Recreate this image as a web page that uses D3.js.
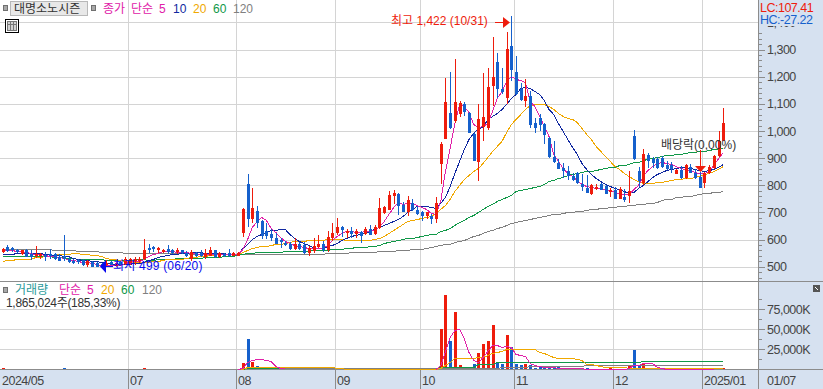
<!DOCTYPE html>
<html>
<head>
<meta charset="utf-8" />
<title>대명소노시즌</title>
<style>
html, body {
    padding: 0px;
    margin: 0px;
    background: #fff;
    overflow: hidden;
}
text {
    font-family: "Liberation Sans", "Noto Sans CJK KR", sans-serif;
    font-size: 12px;
}
.grid line {
    stroke: #d4d4d4;
    shape-rendering: crispEdges;
}
.axis path {
    display: none;
}
.axis line {
    stroke: #8c8c8c;
    shape-rendering: crispEdges;
}
.axis text, .narrow {
    fill: #444;
    font-size: 12.5px;
    letter-spacing: -0.5px;
}
.ma {
    fill: none;
    stroke-width: 1;
    shape-rendering: crispEdges;
}
</style>
</head>
<body>
<div id="chart"></div>
<script src="https://d3js.org/d3.v7.min.js"></script>
<script>
// candles, left to right, one per trading day
var opens = [556,574,570,560,546,562,546,538,540,544,548,548,535,540,528,522,526,525,505,518,512,510,505,518,503,518,510,510,522,522,530,568,572,560,558,564,560,553,560,552,530,550,552,536,541,560,535,548,552,540,
    540,625,806,677,707,670,633,622,607,600,589,585,567,582,581,552,558,574,585,562,604,625,648,627,633,620,628,622,640,622,644,698,710,762,769,729,703,736,710,703,688,688,677,880,972,1068,1038,1064,1101,1068,
    990,887,1016,1012,1167,1256,1156,1123,1315,1219,1153,1112,1130,1031,1049,1027,976,906,883,865,854,836,847,806,791,769,785,806,799,775,784,751,756,762,980,854,810,910,898,898,902,876,876,843,858,828,869,847,832,810,847,865,909,965];
var highs = [570,580,574,566,562,564,560,575,552,556,565,552,545,615,534,528,530,530,525,520,518,512,525,520,518,520,535,532,535,534,603,582,578,574,566,580,564,570,562,558,560,556,560,565,572,562,555,552,565,553,
    556,716,843,791,725,672,662,640,625,607,596,592,605,590,590,575,607,615,595,632,660,681,650,638,648,640,630,645,652,652,754,722,780,784,772,740,762,751,725,707,703,695,755,958,1197,1219,1267,1110,1108,1071,
    992,1101,1212,1234,1348,1289,1234,1366,1422,1278,1178,1190,1149,1049,1064,1030,978,965,898,883,872,845,850,843,839,805,806,810,802,790,792,795,788,854,1002,868,932,920,905,905,907,888,886,861,870,880,880,860,850,850,875,912,1000,1086];
var lows = [550,556,556,552,542,536,524,531,528,520,530,526,522,522,515,510,510,503,500,499,499,499,500,505,500,505,505,505,505,515,525,552,553,552,552,548,548,546,548,535,522,535,535,530,538,532,532,535,535,538,
    538,610,648,662,644,603,603,596,583,570,578,562,560,562,548,540,552,570,556,555,595,615,610,604,604,606,586,615,615,615,640,695,708,730,692,700,688,705,692,670,677,658,662,806,972,1008,1031,1050,1057,994,
    888,817,965,1005,1094,1123,1138,1101,1186,1134,1112,1090,1012,994,1001,953,902,883,859,828,821,815,805,780,773,765,782,782,767,755,749,748,738,735,895,795,800,865,865,860,865,858,847,840,825,825,845,822,791,791,840,860,905,962];
var closes = [564,558,560,556,560,536,536,546,548,536,538,530,522,530,518,516,518,505,522,500,500,500,515,508,512,505,530,528,530,530,560,560,565,568,562,556,552,562,552,540,555,540,540,552,560,534,552,540,540,550,
    552,714,677,718,662,614,614,607,585,590,582,567,582,567,552,570,575,585,562,610,626,648,636,632,622,632,614,640,618,648,717,720,766,772,725,703,747,710,696,685,700,677,733,953,1108,1012,1108,1105,1071,994,
    891,1046,1053,1164,1200,1153,1142,1304,1223,1138,1116,1130,1023,1012,1023,987,906,887,861,854,836,821,810,795,773,802,795,784,769,782,751,788,745,780,898,817,917,891,883,865,869,861,861,858,828,876,847,828,791,847,869,909,965,1031];

// moving averages of the close
var ma5 = [560,560,560,559,559,554,549,547,546,542,541,539,535,532,529,524,522,517,516,513,510,508,508,507,507,508,513,517,520,522,530,538,545,552,557,557,558,556,555,553,552,550,548,546,548,547,548,546,545,546,
    548,566,603,648,670,684,673,644,629,611,596,589,581,578,574,570,570,570,570,581,600,614,625,633,633,629,629,633,633,636,651,670,695,721,740,732,736,736,729,721,714,699,695,743,854,939,1031,1101,1094,1071,
    1027,1016,1020,1031,1075,1123,1149,1186,1204,1193,1189,1182,1112,1094,1057,1020,983,917,891,865,847,836,821,806,799,795,791,791,788,784,777,773,769,769,788,802,836,858,872,883,887,883,880,872,865,861,858,850,847,847,854,876,902,924];
var ma10 = [545,545,548,550,552,552,552,552,550,548,546,544,542,540,538,533,530,526,524,522,520,516,514,512,510,509,510,511,512,513,519,525,530,535,540,544,546,548,550,550,552,553,553,552,551,550,549,549,548,548,
    548,570,585,603,614,622,629,636,636,640,640,622,607,596,589,581,574,570,570,578,581,589,600,607,614,618,622,625,633,640,648,655,662,670,677,688,703,714,725,725,725,721,718,736,755,799,847,891,935,972,
    994,1012,1016,1046,1057,1068,1082,1101,1123,1138,1160,1164,1160,1149,1138,1116,1082,1064,1031,1001,972,942,917,883,861,843,828,817,806,799,791,788,780,773,777,791,802,817,832,843,850,858,861,865,869,869,865,861,858,854,858,861,869,880];
var ma20 = [522,524,526,528,530,530,530,534,537,538,540,542,545,547,548,550,550,548,546,544,542,538,533,530,527,524,522,520,518,518,518,518,520,522,525,527,529,530,530,532,534,536,538,540,542,544,546,547,548,548,
    548,555,563,570,574,578,578,581,585,585,589,592,596,596,596,600,600,600,600,603,603,603,603,600,600,600,600,600,600,603,607,614,625,636,648,659,670,673,677,681,684,688,699,714,729,751,780,802,825,839,
    854,865,883,906,928,946,965,998,1027,1046,1064,1082,1097,1101,1101,1101,1094,1082,1068,1057,1049,1046,1035,1012,990,972,946,928,909,891,872,861,847,836,825,817,810,810,810,813,813,817,821,825,825,828,828,832,836,843,847,854,861,872];
var ma60 = [538,538,538,538,538,538,538,538,538,538,538,535,535,535,532,532,530,530,528,528,527,527,526,526,526,526,526,526,526,527,528,526,526,527,527,528,530,531,531,532,533,533,533,534,535,536,537,538,539,540,
    545,548,550,552,553,555,555,556,556,556,557,557,557,558,559,559,560,561,562,563,565,566,567,568,570,571,572,574,576,578,580,586,590,595,600,602,604,607,610,614,616,619,622,630,636,644,654,663,672,682,
    692,702,712,722,732,742,751,758,765,778,782,786,790,794,798,805,815,820,826,832,838,843,846,849,852,854,857,860,863,866,869,873,876,880,884,887,892,896,901,905,908,910,912,915,917,919,921,924,926,928,930,932,934,936];
var ma120 = [567,567,567,567,567,567,567,567,567,565,565,561,561,561,561,561,557,557,557,557,557,555,555,555,555,555,550,550,550,550,550,550,550,550,550,550,550,550,550,550,548,548,548,548,548,548,548,548,548,548,
    546,546,546,546,546,546,546,546,546,546,547,547,547,547,547,548,548,548,548,549,550,550,552,552,553,554,555,555,556,556,557,558,558,559,560,561,563,565,566,567,570,573,576,579,582,585,590,595,600,606,
    612,618,624,630,636,642,648,654,660,664,668,672,676,680,684,687,690,693,696,698,701,703,705,707,709,711,713,715,717,719,720,722,724,726,728,730,732,734,736,740,744,748,751,755,757,759,761,763,767,770,772,774,777,779];

// volume in thousands of shares and its moving averages (0 = no line drawn yet)
var volumes = [1400,300,300,300,300,300,300,300,300,300,300,300,300,1800,300,300,300,300,300,300,300,300,300,300,300,300,300,300,300,300,1600,300,300,300,300,300,300,300,300,300,300,300,300,300,300,300,300,300,300,300,
    700,7500,38000,9500,4000,1500,1200,1000,900,900,900,900,800,800,800,800,800,800,800,900,800,900,800,800,800,800,800,800,800,800,1500,900,1500,1000,1000,800,900,800,800,800,800,800,1200,51000,93000,35500,71600,5400,2500,2500,
    6700,21000,32000,35500,55500,8300,6700,43000,28500,6700,5000,6700,5000,2000,4000,4000,2500,2500,2500,1400,1200,1200,1000,1000,1200,1000,900,1000,1000,1200,1000,1000,900,4200,24000,4000,7500,2000,2000,1200,1000,1000,900,1500,1000,900,1000,1000,900,900,1000,1500,1500,1865];
var volMa5 = [0,0,0,0,0,0,0,0,0,0,0,0,0,0,0,0,0,0,0,0,0,0,0,0,0,0,0,0,0,0,0,0,0,0,0,0,0,0,0,0,0,0,0,0,0,0,0,0,0,0,
    800,2000,9500,11500,12500,12500,11700,11000,4500,2000,1200,0,0,0,0,0,0,0,0,0,0,0,0,0,0,0,0,0,0,0,0,0,0,0,0,0,0,0,0,0,0,0,800,5400,23000,40000,49000,51000,39000,22000,
    11700,9600,15000,23000,30000,30000,28000,29000,28000,19000,18000,16700,8300,5400,4200,3300,3300,2500,2100,1500,1400,1300,1200,1100,1000,1000,1000,1000,1000,1000,900,900,900,1500,5400,5500,7500,7800,7500,2500,1600,700,400,400,400,400,400,400,400,400,400,400];
var volMa20 = [0,0,0,0,0,0,0,0,0,0,0,0,0,0,0,0,0,0,0,0,0,0,0,0,0,0,0,0,0,0,0,0,0,0,0,0,0,0,0,0,0,0,0,0,0,0,0,0,0,0,
    700,1000,2500,3000,3000,3000,3000,3000,3000,3000,3000,3000,3000,3000,2900,2900,2800,2800,2700,2600,2600,2000,1500,400,400,400,400,400,400,400,400,400,400,400,400,400,400,400,400,400,400,400,400,1200,5400,9600,13700,13700,13700,13700,
    14000,15000,15500,18000,21000,22000,23000,25000,25000,25000,25000,25000,25000,25000,22000,20000,18000,15800,13700,13700,13700,13700,13000,11700,6700,6500,6000,4200,3300,3000,2500,2500,2500,2000,2000,2000,2000,2000,2000,2000,2000,2000,2000,2000,2000,2000,2000,2000,2000,2000,2000,2000,2000,2000];
var volMa60 = [0,0,0,0,0,0,0,0,0,0,0,0,0,0,0,0,0,0,0,0,0,0,0,0,0,0,0,0,0,0,0,0,0,0,0,0,0,0,0,0,0,0,0,0,0,0,0,0,0,0,
    800,900,1300,1300,1300,1300,1300,1300,1300,1300,1300,1300,1300,1300,1300,1300,1300,1300,1300,1300,1300,1300,1300,1300,1300,1300,1300,1300,1300,1300,1300,1300,1300,1300,1300,1300,1300,1300,1300,1300,1300,1300,1300,2500,2500,3500,3500,3500,3500,3500,
    3500,6200,6200,6200,6200,9200,9200,9200,9200,9200,9200,9200,9200,9200,9200,9200,9200,9200,9200,9200,9200,9400,9400,9400,9400,9400,9400,9400,9400,9400,9400,9400,9400,9400,9400,9400,10000,10000,10000,10000,10000,10000,10000,10000,10000,10000,10000,10000,10000,10000,10000,10000,10000,10000];
var volMa120 = [0,0,0,0,0,0,0,0,0,0,0,0,0,0,0,0,0,0,0,0,0,0,0,0,0,0,0,0,0,0,0,0,0,0,0,0,0,0,0,0,0,0,0,0,0,0,0,0,0,0,
    0,0,0,0,0,0,0,0,0,1300,1300,1300,1300,1300,1300,1300,1300,1300,1300,1300,1300,1300,1300,1300,1300,1300,1300,1300,1300,1300,1300,1300,1300,1300,1300,1300,1300,1300,1300,1300,1300,1300,1500,1700,1700,1700,1700,1700,1700,1700,
    1700,1700,1700,2000,2000,2000,2400,2400,2800,2800,3200,3200,3600,3600,4200,4200,4200,4200,4200,4500,4500,4500,4500,4500,4800,4800,4800,4800,4800,4800,5000,5000,5000,5000,5000,5000,5400,5400,5400,5400,5400,5400,5400,5400,5400,5400,5400,5400,5400,5400,5400,5400,5400,5400];

// axis ticks and labels
var priceTicks = [1400,1300,1200,1100,1000,900,800,700,600,500];
var priceMinor = [1360,1340,1320,1280,1260,1240,1220,1180,1160,1140,1120,1080,1060,1040,1020,980,960,940,920,880,860,840,820,780,760,740,720,680,660,640,620,580,560,540,520,480,460];
var volTicks = [75000,50000,25000];
var volMinor = [87500,62500,37500,12500,0];
var monthIndex = [0,27,50,71,89,109,130,149];
var monthLabels = ["2024/05","07","08","09","10","11","12","2025/01"];

var maColors = {ma5:"#e020a8", ma10:"#1028a0", ma20:"#f0a800", ma60:"#109848", ma120:"#808080"};
var upColor = "#ee1c0c", downColor = "#1560cc", panelColor = "#d6e1f0", lineColor = "#8c8c8c";

var width = 823, height = 389, plotRight = 758;

var x = d3.scaleLinear().domain([0, 153]).range([2.7, 723.3]);
var y = d3.scaleLinear().domain([500, 1300]).range([266.7, 49.6]);
var v = d3.scaleLinear().domain([0, 75000]).range([369.3, 309.3]);

var svg = d3.select("#chart").append("svg")
    .attr("width", width)
    .attr("height", height)
    .style("display", "block");

// panels
svg.append("rect").attr("x", plotRight).attr("y", 0).attr("width", width - plotRight).attr("height", height).attr("fill", panelColor);
svg.append("rect").attr("x", 0).attr("y", 370).attr("width", width).attr("height", height - 370).attr("fill", panelColor);

// grid
var grid = svg.append("g").attr("class", "grid");
grid.selectAll(".h1").data(priceTicks).enter().append("line")
    .attr("x1", 0).attr("x2", plotRight)
    .attr("y1", function(d) { return Math.round(y(d)) + 0.5; })
    .attr("y2", function(d) { return Math.round(y(d)) + 0.5; });
grid.selectAll(".h2").data(volTicks).enter().append("line")
    .attr("x1", 0).attr("x2", plotRight)
    .attr("y1", function(d) { return Math.round(v(d)) + 0.5; })
    .attr("y2", function(d) { return Math.round(v(d)) + 0.5; });
grid.selectAll(".v").data(monthIndex.slice(1)).enter().append("line")
    .attr("x1", function(d) { return Math.round(x(d)) - 1.5; })
    .attr("x2", function(d) { return Math.round(x(d)) - 1.5; })
    .attr("y1", 0).attr("y2", 370);

// moving averages go under the candles
function drawLine(values, color, scale) {
    var line = d3.line()
        .defined(function(d) { return d > 0; })
        .x(function(d, i) { return x(i); })
        .y(function(d) { return Math.round(scale(d)) + 0.5; });
    svg.append("path").attr("class", "ma").attr("d", line(values)).attr("stroke", color);
}
drawLine(ma120, maColors.ma120, y);
drawLine(ma60, maColors.ma60, y);
drawLine(ma20, maColors.ma20, y);
drawLine(ma10, maColors.ma10, y);
drawLine(ma5, maColors.ma5, y);

// candles
var candle = svg.append("g").attr("shape-rendering", "crispEdges")
    .selectAll("g").data(closes).enter().append("g");
function candleColor(d, i) { return d >= opens[i] ? upColor : downColor; }
candle.append("line")
    .attr("x1", function(d, i) { return Math.round(x(i)) + 0.5; })
    .attr("x2", function(d, i) { return Math.round(x(i)) + 0.5; })
    .attr("y1", function(d, i) { return Math.round(y(highs[i])); })
    .attr("y2", function(d, i) { return Math.round(y(lows[i])); })
    .attr("stroke", candleColor);
candle.append("rect")
    .attr("x", function(d, i) { return Math.round(x(i)) - 1; })
    .attr("width", 3)
    .attr("y", function(d, i) { return Math.round(y(Math.max(opens[i], d))); })
    .attr("height", function(d, i) { return Math.max(2, Math.round(y(Math.min(opens[i], d))) - Math.round(y(Math.max(opens[i], d)))); })
    .attr("fill", candleColor);

// frame lines, the volume averages run over the bottom one
var frame = svg.append("g").attr("stroke", lineColor).attr("shape-rendering", "crispEdges");
frame.append("line").attr("x1", plotRight + 0.5).attr("x2", plotRight + 0.5).attr("y1", 0).attr("y2", height);
frame.append("line").attr("x1", 0).attr("x2", width).attr("y1", 281.5).attr("y2", 281.5);
frame.append("line").attr("x1", 0).attr("x2", width).attr("y1", 369.5).attr("y2", 369.5);
frame.selectAll(".tick").data(monthIndex.slice(1)).enter().append("line")
    .attr("x1", function(d) { return Math.round(x(d)) - 1.5; })
    .attr("x2", function(d) { return Math.round(x(d)) - 1.5; })
    .attr("y1", 370).attr("y2", height);

// volume
svg.append("g").attr("shape-rendering", "crispEdges")
    .selectAll("rect").data(volumes).enter().append("rect")
    .attr("x", function(d, i) { return Math.round(x(i)) - 1; })
    .attr("width", 3)
    .attr("y", function(d) { return Math.round(v(d)); })
    .attr("height", function(d) { return 369 - Math.round(v(d)); })
    .attr("fill", function(d, i) { return candleColor(closes[i], i); });
drawLine(volMa60, maColors.ma60, v);
drawLine(volMa120, maColors.ma120, v);
drawLine(volMa20, maColors.ma20, v);
drawLine(volMa5, maColors.ma5, v);

// right axes
function drawAxis(scale, major, minor, format) {
    svg.append("g").attr("class", "axis").attr("transform", "translate(" + plotRight + ",0)")
        .call(d3.axisRight(scale).tickValues(minor).tickSize(4).tickFormat(""));
    var a = svg.append("g").attr("class", "axis").attr("transform", "translate(" + plotRight + ",0)")
        .call(d3.axisRight(scale).tickValues(major).tickSize(7).tickPadding(2).tickFormat(format));
    return a;
}
drawAxis(y, priceTicks, priceMinor, d3.format(","));
drawAxis(v, volTicks, volMinor, function(d) { return d3.format(",")(d) + "K"; });

// LC / HC box sits on top of the 1,400 label
svg.append("rect").attr("x", plotRight + 1).attr("y", 0).attr("width", width - plotRight).attr("height", 26).attr("fill", panelColor);
svg.append("text").attr("class", "narrow").attr("x", 760).attr("y", 12).style("fill", "#ee1c0c").text("LC:107.41");
svg.append("text").attr("class", "narrow").attr("x", 760).attr("y", 24).style("fill", "#1560cc").text("HC:-27.22");

// date labels
svg.selectAll(".month").data(monthLabels).enter().append("text")
    .attr("class", "narrow")
    .attr("x", function(d, i) { return i == 0 ? 2 : Math.round(x(monthIndex[i])); })
    .attr("y", 385)
    .text(function(d) { return d; });
svg.append("text").attr("class", "narrow").attr("x", 767).attr("y", 385).text("01/07");

// small helper for the header texts
function label(px, py, str, color) {
    return svg.append("text").attr("x", px).attr("y", py).attr("fill", color).text(str);
}
function handle(px, py) {
    svg.append("rect").attr("x", px + 0.5).attr("y", py + 0.5).attr("width", 4).attr("height", 5)
        .attr("fill", "#a8a8a8").attr("stroke", "#707070").attr("shape-rendering", "crispEdges");
}

// price header
handle(3, 5);
svg.append("rect").attr("x", 10.5).attr("y", 1.5).attr("width", 77).attr("height", 14)
    .attr("fill", "#e8e8e8").attr("stroke", "#b8b8b8").attr("shape-rendering", "crispEdges");
label(14, 13, "대명소노시즌", "#333");
handle(91, 5);
label(103, 13, "종가", maColors.ma5);
label(131, 13, "단순", maColors.ma5);
label(159, 13, "5", maColors.ma5);
label(173, 13, "10", maColors.ma10);
label(193, 13, "20", maColors.ma20);
label(213, 13, "60", maColors.ma60);
label(233, 13, "120", maColors.ma120);

// table icon
var icon = svg.append("g").attr("shape-rendering", "crispEdges");
icon.append("rect").attr("x", 5.5).attr("y", 19.5).attr("width", 13).attr("height", 13).attr("fill", "#fff").attr("stroke", "#000");
icon.append("rect").attr("x", 7.5).attr("y", 21.5).attr("width", 9).attr("height", 9).attr("fill", "#d0d0d0").attr("stroke", "#777");
icon.append("line").attr("x1", 10.5).attr("x2", 10.5).attr("y1", 22).attr("y2", 30).attr("stroke", "#777");
icon.append("line").attr("x1", 13.5).attr("x2", 13.5).attr("y1", 22).attr("y2", 30).attr("stroke", "#777");
icon.append("line").attr("x1", 8).attr("x2", 16).attr("y1", 24.5).attr("y2", 24.5).attr("stroke", "#777");

// volume header
handle(3, 287);
label(15, 294, "거래량", "#2a9a9a");
label(59, 294, "단순", maColors.ma5);
label(87, 294, "5", maColors.ma5);
label(101, 294, "20", maColors.ma20);
label(121, 294, "60", maColors.ma60);
label(142, 294, "120", maColors.ma120);
label(6, 307, "1,865,024주(185,33%)", "#333").style("letter-spacing", "-0.3px");

// high marker
label(391, 25, "최고 1,422 (10/31)", upColor);
svg.append("line").attr("x1", 495).attr("x2", 505).attr("y1", 22.5).attr("y2", 22.5).attr("stroke", upColor);
svg.append("path").attr("d", d3.line()([[503, 17], [510, 22.5], [503, 28]])).attr("fill", upColor);

// low marker
svg.append("line").attr("x1", 104).attr("x2", 113).attr("y1", 266.5).attr("y2", 266.5).attr("stroke", "#0a0aee");
svg.append("path").attr("d", d3.line()([[106, 260], [100, 266.5], [106, 273]])).attr("fill", "#0a0aee");
label(113, 270, "최저 499 (06/20)", "#0a0aee").style("letter-spacing", "0.2px");

// ex-dividend marker
label(661, 149, "배당락(0,00%)", "#333");
svg.append("line").attr("x1", 700.5).attr("x2", 700.5).attr("y1", 150).attr("y2", 168).attr("stroke", upColor);
svg.append("path").attr("d", d3.line()([[695, 166], [706, 166], [700.5, 172]])).attr("fill", upColor);

// expand icon on the volume panel
svg.append("rect").attr("x", 813).attr("y", 285).attr("width", 7).attr("height", 7).attr("fill", "#555");
svg.append("path").attr("d", d3.line()([[815, 287], [818, 290]])).attr("stroke", "#fff");
</script>
</body>
</html>
